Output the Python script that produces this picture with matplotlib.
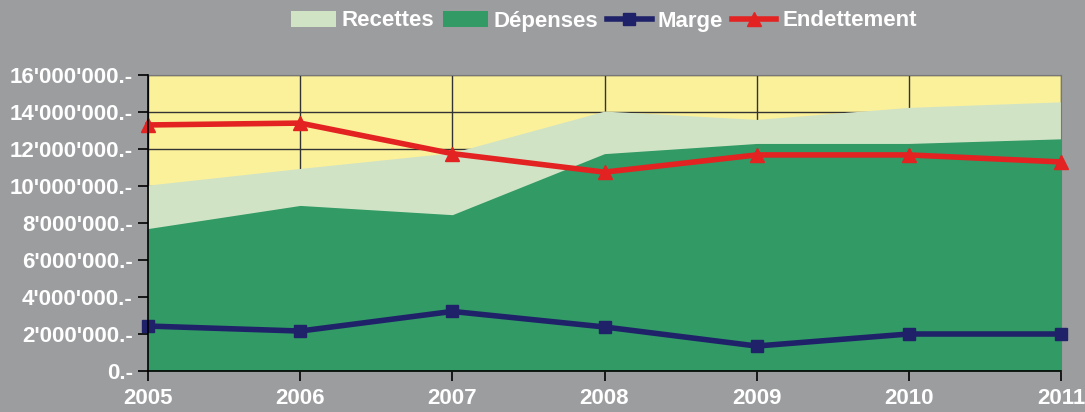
import matplotlib
matplotlib.use("Agg")
import matplotlib.pyplot as plt
from matplotlib.patches import Patch
from matplotlib.lines import Line2D
from matplotlib.ticker import FuncFormatter

years = [2005, 2006, 2007, 2008, 2009, 2010, 2011]
recettes = [10.05e6, 10.95e6, 11.8e6, 14.05e6, 13.6e6, 14.25e6, 14.55e6]
depenses = [7.7e6, 8.95e6, 8.45e6, 11.75e6, 12.3e6, 12.3e6, 12.55e6]
marge = [2.43e6, 2.16e6, 3.22e6, 2.38e6, 1.35e6, 2.0e6, 2.0e6]
endettement = [13.3e6, 13.4e6, 11.75e6, 10.75e6, 11.68e6, 11.68e6, 11.3e6]

bg = "#9c9d9f"
plot_bg = "#fbf19b"
c_rec = "#d1e3c5"
c_dep = "#319a65"
c_marge = "#1f2268"
c_end = "#e32222"

plt.rcParams['font.family'] = ['Liberation Sans', 'DejaVu Sans']

fig = plt.figure(figsize=(10.85, 4.12), dpi=100, facecolor=bg)
ax = fig.add_axes([148/1085, 1-371/412, (1061-148)/1085, (371-75)/412])
ax.set_facecolor(plot_bg)

ax.fill_between(years, 0, recettes, color=c_rec, lw=0, zorder=2)
ax.fill_between(years, 0, depenses, color=c_dep, lw=0, zorder=3)
ax.plot(years, marge, color=c_marge, lw=4, marker='s', ms=9, zorder=5, clip_on=False)
ax.plot(years, endettement, color=c_end, lw=4, marker='^', ms=10, zorder=5, clip_on=False)

ax.set_xlim(2005, 2011)
ax.set_ylim(0, 16e6)
ax.set_yticks([i*2e6 for i in range(9)])
ax.set_xticks(years)
ax.yaxis.set_major_formatter(FuncFormatter(lambda v, p: "0.-" if v == 0 else "{:,}".format(int(v)).replace(",", "'") + ".-"))
ax.grid(True, color="#333333", lw=1, zorder=1)
ax.set_axisbelow(True)

for s in ['top', 'right']:
    ax.spines[s].set_color("#777777")
for s in ['left', 'bottom']:
    ax.spines[s].set_color("black")
    ax.spines[s].set_linewidth(1.2)
    ax.spines[s].set_zorder(6)

ax.tick_params(axis='both', colors='black', labelcolor='white', labelsize=16, length=7, width=1.2, direction='out')
ax.tick_params(axis='x', pad=5)
ax.tick_params(axis='y', pad=4)
for lab in ax.get_xticklabels() + ax.get_yticklabels():
    lab.set_fontweight('bold')

handles = [
    Patch(facecolor=c_rec, edgecolor='none'),
    Patch(facecolor=c_dep, edgecolor='none'),
    Line2D([], [], color=c_marge, lw=4, marker='s', ms=9),
    Line2D([], [], color=c_end, lw=4, marker='^', ms=10),
]
leg = fig.legend(handles, ["Recettes", "Dépenses", "Marge", "Endettement"],
                 loc='center', bbox_to_anchor=(604/1085, 1-21/412), ncol=4, frameon=False,
                 handlelength=2.0, handleheight=0.75, handletextpad=0.27, columnspacing=0.4,
                 prop={'weight': 'bold', 'size': 16})
for t in leg.get_texts():
    t.set_color('white')

fig.savefig("out.png", dpi=100, facecolor=bg)
